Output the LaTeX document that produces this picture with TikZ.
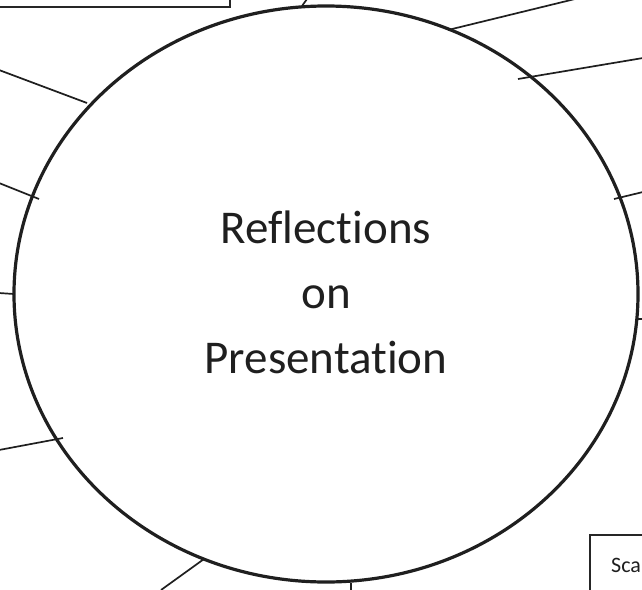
\documentclass[tikz,border=0pt]{standalone}
\usepackage{fontspec}
\setmainfont{Carlito}[Ligatures=NoCommon]
\begin{document}
\begin{tikzpicture}[x=1pt,y=-1pt,
  ring/.style={draw=black!88,line width=3.2pt},
  spoke/.style={draw=black!88,line width=1.7pt},
  framebox/.style={draw=black!85,line width=1.4pt},
  centretext/.style={font=\fontsize{47}{47}\selectfont,text=black!88,align=center},
  boxtext/.style={font=\fontsize{22}{22}\selectfont,text=black!88,anchor=base west}]
\useasboundingbox (0,0) rectangle (642,589);
\clip (0,0) rectangle (642,589);
% top-left box
\draw[framebox] (-10,-10) rectangle (230,7);
% bottom-right box
\draw[framebox] (590,535) rectangle (660,600);
\node[boxtext,inner sep=0pt] (sca) at (611,572) {Sca};
% spokes (outer free ends)
\coordinate (o1) at (307,-1);  \coordinate (i1) at (302,6);
\coordinate (o2) at (575,-1);  \coordinate (i2) at (448,30);
\coordinate (o3) at (643,58);  \coordinate (i3) at (518,79);
\coordinate (o4) at (-1,70);   \coordinate (i4) at (87,103);
\coordinate (o5) at (-1,183);  \coordinate (i5) at (39,199);
\coordinate (o6) at (-1,293);  \coordinate (i6) at (14,294);
\coordinate (o7) at (-1,450);  \coordinate (i7) at (63,438);
\coordinate (o8) at (643,192); \coordinate (i8) at (614,199);
\coordinate (o9) at (643,319); \coordinate (i9) at (638,319);
\coordinate (o10) at (161,590); \coordinate (i10) at (204,559);
\coordinate (o11) at (351,590); \coordinate (i11) at (351,583);
\foreach \k in {1,...,11}{\draw[spoke] (o\k) -- (i\k);}
% central ellipse
\draw[ring] (326,294) ellipse [x radius=312, y radius=288];
\node[centretext] (title) at (326,292) {Reflections\\[18pt]on\\[18pt]Presentation};
\end{tikzpicture}
\end{document}
